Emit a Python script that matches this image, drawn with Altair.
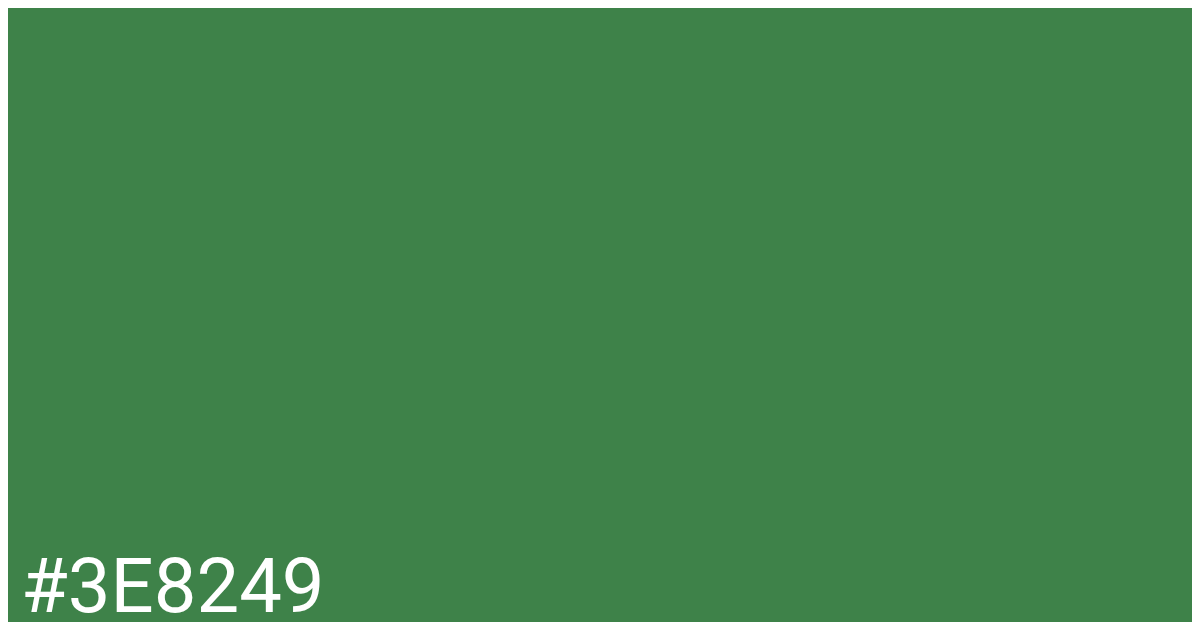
import altair as alt
import pandas as pd

labels = ["#3E8249"]
colors = ["#3E8249"]

df = pd.DataFrame({"label": labels, "color": colors})

chart = alt.Chart(df).mark_text(
    align="left", baseline="alphabetic", font="Roboto", fontSize=76,
    color="#FFFFFF"
).encode(
    x=alt.value(13),
    y=alt.value(604),
    text="label:N",
).properties(
    width=1184, height=614,
    autosize=alt.AutoSizeParams(type="fit", contains="padding"),
    padding=0,
    background=colors[0],
).configure_view(stroke=None, fill=colors[0])

chart.save("out.html", embed_options={"renderer": "svg", "actions": False})
